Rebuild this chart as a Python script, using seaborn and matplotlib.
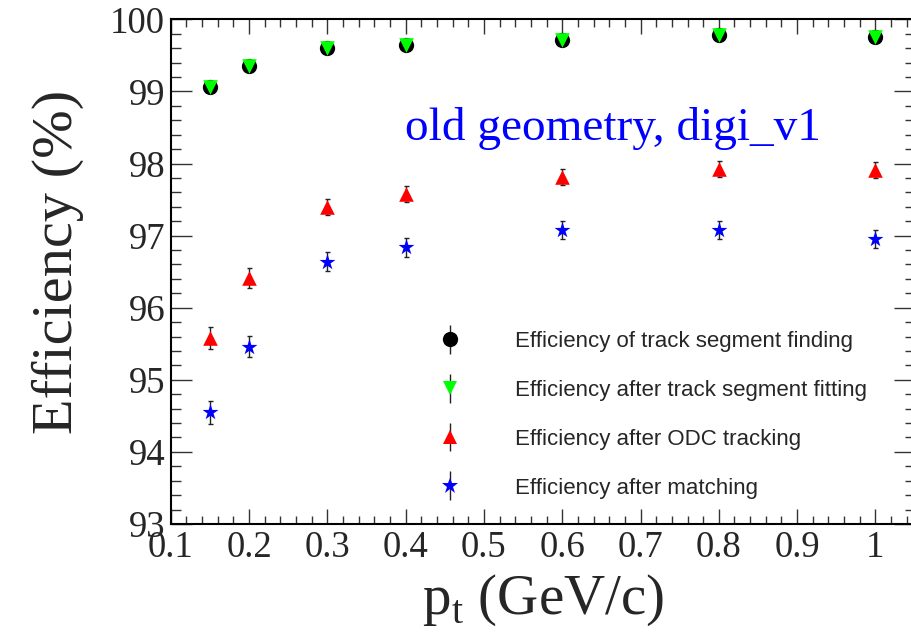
import matplotlib
matplotlib.use("Agg")
import matplotlib.pyplot as plt
from matplotlib.ticker import FixedLocator, MultipleLocator
from matplotlib.legend_handler import HandlerErrorbar
import pandas as pd
import seaborn as sns

# transverse momentum bins (GeV/c)
pt = [0.15, 0.2, 0.3, 0.4, 0.6, 0.8, 1.0]

# efficiencies (%) and their uncertainties for each reconstruction stage
eff_finding = [99.06, 99.35, 99.61, 99.65, 99.72, 99.79, 99.75]
err_finding = [0.03, 0.03, 0.03, 0.03, 0.03, 0.03, 0.03]
eff_fitting = [99.06, 99.35, 99.61, 99.65, 99.72, 99.79, 99.75]
err_fitting = [0.03, 0.03, 0.03, 0.03, 0.03, 0.03, 0.03]
eff_odc = [95.58, 96.41, 97.40, 97.58, 97.81, 97.92, 97.91]
err_odc = [0.15, 0.14, 0.115, 0.115, 0.11, 0.11, 0.11]
eff_matching = [94.55, 95.46, 96.64, 96.84, 97.08, 97.08, 96.95]
err_matching = [0.16, 0.15, 0.13, 0.13, 0.125, 0.125, 0.125]

series_names = [
    "Efficiency of track segment finding",
    "Efficiency after track segment fitting",
    "Efficiency after ODC tracking",
    "Efficiency after matching",
]

x_ticks = [0.1, 0.2, 0.3, 0.4, 0.5, 0.6, 0.7, 0.8, 0.9, 1.0]
x_tick_labels = ["0.1", "0.2", "0.3", "0.4", "0.5", "0.6", "0.7", "0.8", "0.9", "1"]
y_ticks = [93, 94, 95, 96, 97, 98, 99, 100]
y_tick_labels = ["93", "94", "95", "96", "97", "98", "99", "100"]

values = [eff_finding, eff_fitting, eff_odc, eff_matching]
errors = [err_finding, err_fitting, err_odc, err_matching]
df = pd.concat(
    [pd.DataFrame({"pt": pt, "eff": v, "err": e, "stage": n})
     for n, v, e in zip(series_names, values, errors)],
    ignore_index=True,
)

styles = {
    series_names[0]: dict(marker="o", color="#000000", size=11),
    series_names[1]: dict(marker="v", color="#00ff00", size=10.5),
    series_names[2]: dict(marker="^", color="#ff0000", size=10.5),
    series_names[3]: dict(marker="*", color="#0000ff", size=12),
}

sns.set_theme(style="ticks")
plt.rcParams["font.family"] = ["Liberation Serif", "DejaVu Serif"]
plt.rcParams["mathtext.fontset"] = "custom"
plt.rcParams["mathtext.rm"] = "Liberation Serif"

fig = plt.figure(figsize=(9.12, 6.4), dpi=100)
ax = fig.add_axes([170.7 / 912, 1 - 524 / 640, 743.9 / 912, 504.6 / 640])

handles = []
for name in series_names:
    sub = df[df["stage"] == name]
    st = styles[name]
    ax.errorbar(sub["pt"], sub["eff"], yerr=sub["err"], fmt="none",
                ecolor="#222222", elinewidth=1.0, capsize=1.8, capthick=1.0,
                zorder=2)
    sns.scatterplot(data=sub, x="pt", y="eff", marker=st["marker"],
                    color=st["color"], s=st["size"] ** 2, linewidth=0,
                    ax=ax, zorder=3, legend=False)
    h = ax.errorbar([], [], yerr=[], fmt=st["marker"], color=st["color"],
                    markersize=st["size"], markeredgewidth=0,
                    ecolor="#222222", elinewidth=1.0, capsize=0, label=name)
    handles.append(h)

ax.set_xlim(0.1, 1.05)
ax.set_ylim(93, 100)
ax.xaxis.set_major_locator(FixedLocator(x_ticks))
ax.set_xticklabels(x_tick_labels)
ax.yaxis.set_major_locator(FixedLocator(y_ticks))
ax.set_yticklabels(y_tick_labels)
ax.xaxis.set_minor_locator(MultipleLocator(0.02))
ax.yaxis.set_minor_locator(MultipleLocator(0.2))

ax.tick_params(axis="both", which="both", direction="in", top=True,
               right=True, color="#333333", width=1.0, labelsize=26.5)
ax.tick_params(axis="x", which="major", length=11, pad=5)
ax.tick_params(axis="x", which="minor", length=5.8)
ax.tick_params(axis="y", which="major", length=15, pad=4)
ax.tick_params(axis="y", which="minor", length=7.5)
for sp in ax.spines.values():
    sp.set_linewidth(1.5)
    sp.set_color("black")

ax.set_xlabel(r"p$_{\mathregular{t}}$ (GeV/c)", fontsize=41, labelpad=5)
ax.set_ylabel("Efficiency (%)", fontsize=42, labelpad=19)
ax.yaxis.label.set_y(0.52)

ax.text(0.315, 0.761, "old geometry, digi_v1", transform=ax.transAxes,
        color="#0000ff", fontsize=34, ha="left", va="baseline")

leg = ax.legend(handles=handles, labels=series_names, loc="upper left",
                bbox_to_anchor=(0.33, 0.382), frameon=False,
                prop={"family": "Liberation Sans", "size": 16},
                handlelength=3, handletextpad=1.43, labelspacing=1.25,
                borderpad=0, borderaxespad=0,
                handler_map={type(handles[0]): HandlerErrorbar(yerr_size=0.65)})

fig.savefig("out.png", dpi=100)
